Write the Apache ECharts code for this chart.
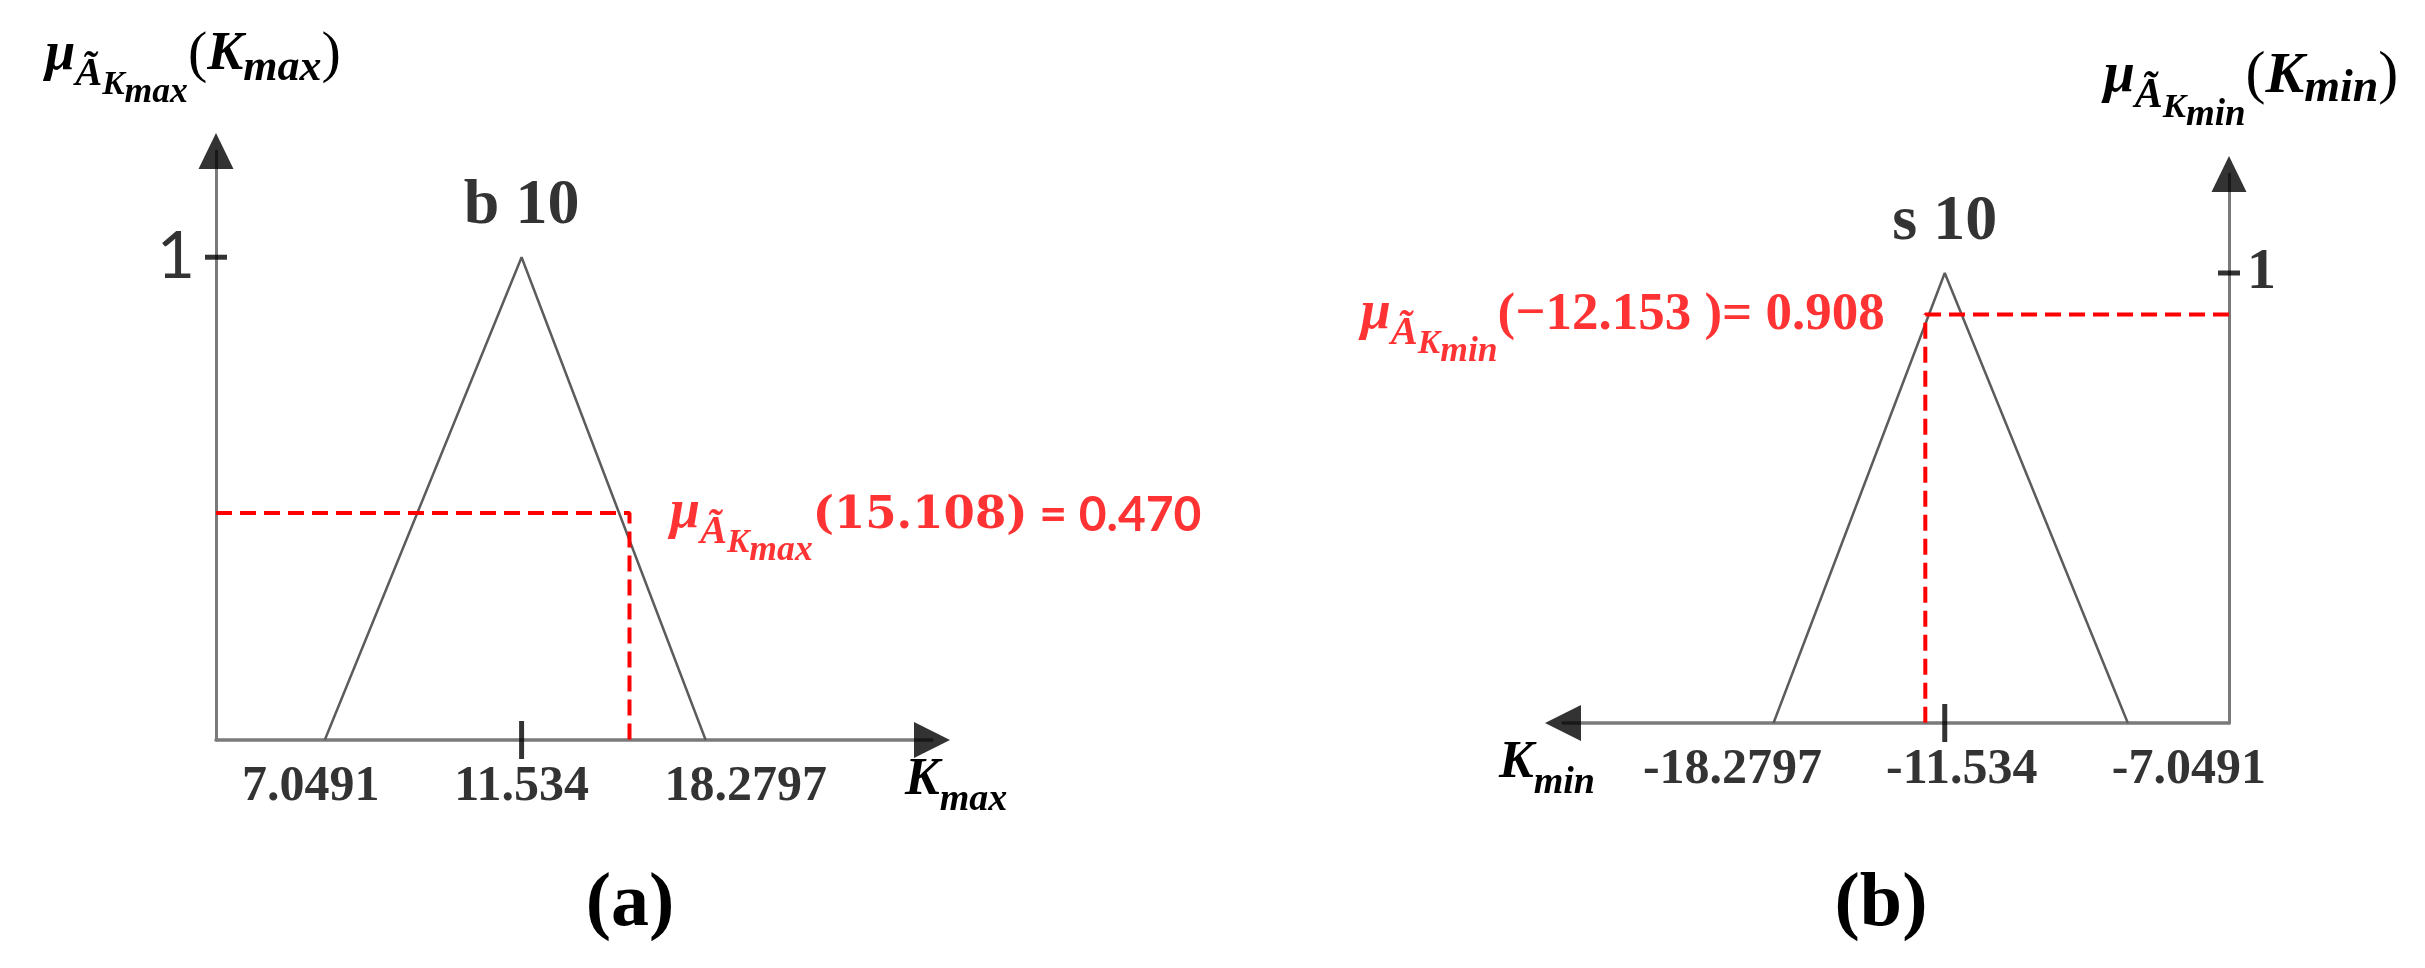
<!DOCTYPE html>
<html>
<head>
<meta charset="utf-8">
<script src="https://cdn.jsdelivr.net/npm/echarts@6/dist/echarts.min.js"></script>
<style>html,body{margin:0;background:#fff}#chart{width:2425px;height:968px}</style>
</head>
<body>
<div id="chart"></div>
<script>
// 三角模糊数 b10 (K_max) 与 s10 (K_min)
var kMaxPoints = [7.0491, 11.534, 18.2797];
var kMinPoints = [-18.2797, -11.534, -7.0491];
var tfnMu = [0, 1, 0];
var kMaxLabels = ['7.0491', '11.534', '18.2797'];
var kMinLabels = ['-18.2797', '-11.534', '-7.0491'];
var peakNames = ['b 10', 's 10'];
// 隶属度计算点
var kMaxCut = 15.108, kMaxCutMu = 0.470;
var kMinCut = -12.153, kMinCutMu = 0.908;

var myChart = echarts.init(document.getElementById('chart'));

var X_MIN = 5.37, X_MAX = 32.2, Y_MAX = 1.22;
var SERIF = 'Liberation Serif';
var RED = '#ff0000';
// 标签横向微调（像素）
var kMaxLabelShift = [-14, 0, 40];
var kMinLabelShift = [-41, 17, 61];

// 数学字体片段, drop = 基线下沉
function tok(size, drop, base, extra) {
    var pt = Math.max(0, 2 * (drop + 0.34 * (base - size)));
    var s = {fontFamily: SERIF, fontStyle: 'italic', fontWeight: 'bold', fontSize: size, color: '#000',
             verticalAlign: 'middle', padding: [pt, 0, 0, 0]};
    for (var k in extra) s[k] = extra[k];
    return s;
}
function muRich(base, color) {
    return {
        mu: tok(base, 0, base, {color: color}),
        a: tok(base * 0.75, base * 0.27, base, {color: color}),
        k: tok(base * 0.62, base * 0.43, base, {color: color}),
        s: tok(base * 0.66, base * 0.58, base, {color: color})
    };
}
var mag = function (x) { return -x; };
function pts(xs, ys, f) {
    return xs.map(function (x, i) { return [f ? f(x) : x, ys[i]]; });
}
function hidden() { return {color: 'rgba(0,0,0,0)'}; }

// 坐标轴标题
var titleA = muRich(54, '#000');
titleA.p = tok(58, 0, 54, {fontStyle: 'normal', fontWeight: 'normal'});
titleA.K = tok(54, 0, 54);
titleA.m = tok(44, 10, 54);
var titleB = muRich(56, '#000');
titleB.p = tok(60, 0, 56, {fontStyle: 'normal', fontWeight: 'normal'});
titleB.K = tok(58, 0, 56);
titleB.m = tok(46, 9, 56);

// 红色注释
var cutA = muRich(54, RED);
cutA.n = {fontFamily: 'DejaVu Serif', fontWeight: 'bold', fontSize: 45, color: RED,
          verticalAlign: 'middle', padding: [6, 0, 0, 0]};
cutA.e = {fontFamily: 'Lato', fontWeight: 'bold', fontSize: 48, color: RED,
          verticalAlign: 'middle', padding: [5, 0, 0, 0]};
var cutB = muRich(54, RED);
cutB.n = {fontFamily: SERIF, fontWeight: 'bold', fontSize: 53, color: RED,
          verticalAlign: 'middle', padding: [1, 0, 0, 0]};

var tickLabelStyle = {fontFamily: SERIF, fontWeight: 'bold', fontSize: 50, color: '#000'};

function xAxisOpt(grid, inverse, nameText, gap) {
    return {
        type: 'log', gridIndex: grid, min: X_MIN, max: X_MAX, inverse: inverse,
        axisLine: {show: true, onZero: false, lineStyle: {color: '#7a7a7a', width: 3.5}},
        axisTick: {show: false}, axisLabel: {show: false}, splitLine: {show: false},
        name: nameText, nameLocation: 'end', nameGap: gap,
        nameTextStyle: {padding: [82, 0, 0, 0], rich: {
            K: tok(52, 0, 52), m: tok(38, 14, 52)
        }}
    };
}
function yAxisOpt(grid, pos, nameText, rich, pad) {
    return {
        type: 'value', gridIndex: grid, min: 0, max: Y_MAX, position: pos,
        axisLine: {show: true, onZero: false, lineStyle: {color: '#7a7a7a', width: 3}},
        axisTick: {show: false}, axisLabel: {show: false}, splitLine: {show: false},
        name: nameText, nameLocation: 'end', nameGap: 40,
        nameTextStyle: {rich: rich, padding: pad}
    };
}

function panelSeries(idx, xs, labels, shift, cutX, cutMu, cutText, cutRich, cutPos, f, arrowRot, oneLabel) {
    var base = {xAxisIndex: idx, yAxisIndex: idx, silent: true, animation: false};
    function s(o) { for (var k in base) o[k] = base[k]; return o; }
    return [
        // 三角形隶属函数
        s({type: 'line', data: pts(xs, tfnMu, f), symbol: 'none', z: 3,
           lineStyle: {color: '#5c5c5c', width: 2.5}}),
        // 红色虚线
        s({type: 'line', data: [[X_MIN, cutMu], [f(cutX), cutMu], [f(cutX), 0]], symbol: 'none', z: 4,
           lineStyle: {color: RED, width: 4, type: [16, 8]}}),
        s({type: 'scatter', data: [[f(cutX), cutMu]], symbolSize: 1, itemStyle: hidden(), z: 6,
           label: {show: true, position: cutPos, distance: 40, formatter: cutText, rich: cutRich}}),
        // 横轴刻度文字
        s({type: 'scatter', symbolSize: 1, itemStyle: hidden(), z: 6,
           data: xs.map(function (x, i) {
               return {value: [f(x), 0], label: {offset: [shift[i], 0]}};
           }),
           label: {show: true, position: 'bottom', distance: 22,
                   formatter: function (p) { return labels[p.dataIndex]; }, textStyle: tickLabelStyle}}),
        // 顶点名称
        s({type: 'scatter', data: [[f(xs[1]), tfnMu[1]]], symbolSize: 1, itemStyle: hidden(), z: 6,
           label: {show: true, position: 'top', distance: 18, formatter: peakNames[idx],
                   fontFamily: SERIF, fontWeight: 'bold', fontSize: 64, color: '#000'}}),
        // 刻度
        s({type: 'scatter', data: [[f(xs[1]), 0]], symbol: 'rect', symbolSize: [5, 38], z: 7,
           itemStyle: {color: '#000'}}),
        s({type: 'scatter', data: [[X_MIN, 1]], symbol: 'rect', symbolSize: [22, 5], z: 7,
           itemStyle: {color: '#000'}, label: oneLabel}),
        // 箭头
        s({type: 'scatter', symbol: 'triangle', z: 8, itemStyle: {color: '#000'}, clip: false,
           data: [{value: [X_MAX, 0], symbolRotate: arrowRot, symbolSize: [36, 36]},
                  {value: [X_MIN, Y_MAX], symbolRotate: 0, symbolSize: [35, 36]}]})
    ];
}

var cutTextA = '{mu|μ}{a|Ã}{k|K}{s|max}{n|(' + kMaxCut.toFixed(3) + ')}{e| = ' + kMaxCutMu.toFixed(3) + '}';
var cutTextB = '{mu|μ}{a|Ã}{k|K}{s|min}{n|(−' + Math.abs(kMinCut).toFixed(3) + ' )= ' + kMinCutMu.toFixed(3) + '}';

var option = {
    backgroundColor: '#fff',
    animation: false,
    grid: [
        {left: 216, top: 151, width: 716, height: 589, containLabel: false},
        {left: 1563, top: 174, width: 666, height: 549, containLabel: false}
    ],
    xAxis: [
        xAxisOpt(0, false, '{K|K}{m|max}', -27),
        xAxisOpt(1, true, '{K|K}{m|min}', -32)
    ],
    yAxis: [
        yAxisOpt(0, 'left', '{mu|μ}{a|Ã}{k|K}{s|max}{p|(}{K|K}{m|max}{p|)}', titleA, [0, 46, 0, 0]),
        yAxisOpt(1, 'right', '{mu|μ}{a|Ã}{k|K}{s|min}{p|(}{K|K}{m|min}{p|)}', titleB, [0, 0, 0, 44])
    ],
    title: [
        {text: '{p|(}{b|a}{p|)}', left: 625, top: 862, textAlign: 'center',
         textStyle: {rich: {p: {fontFamily: SERIF, fontSize: 76, color: '#000'},
                            b: {fontFamily: SERIF, fontSize: 76, fontWeight: 'bold', color: '#000'}}}},
        {text: '{p|(}{b|b}{p|)}', left: 1876, top: 862, textAlign: 'center',
         textStyle: {rich: {p: {fontFamily: SERIF, fontSize: 76, color: '#000'},
                            b: {fontFamily: SERIF, fontSize: 76, fontWeight: 'bold', color: '#000'}}}}
    ],
    series: [].concat(
        panelSeries(0, kMaxPoints, kMaxLabels, kMaxLabelShift, kMaxCut, kMaxCutMu, cutTextA, cutA, 'right',
            function (x) { return x; }, -90,
            {show: true, position: 'left', distance: 10, formatter: '1',
             fontFamily: 'Lato', fontSize: 66, color: '#000'}),
        panelSeries(1, kMinPoints, kMinLabels, kMinLabelShift, kMinCut, kMinCutMu, cutTextB, cutB, 'left',
            mag, 90,
            {show: true, position: 'right', distance: 7, formatter: '1',
             fontFamily: SERIF, fontWeight: 'bold', fontSize: 58, color: '#000'})
    )
};

myChart.setOption(option);
</script>
</body>
</html>
